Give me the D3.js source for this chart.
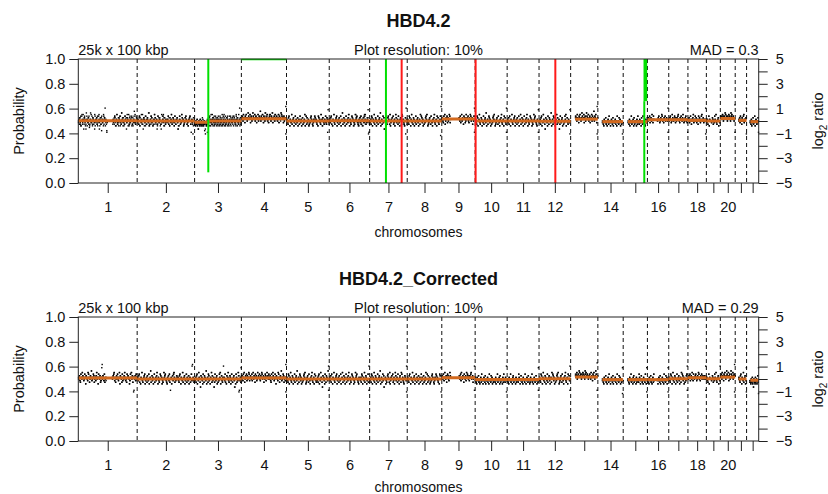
<!DOCTYPE html>
<html>
<head>
<meta charset="utf-8">
<script src="https://cdn.jsdelivr.net/npm/d3@7"></script>
<style>
  body { margin: 0; background: #fff; }
  text { font-family: "Liberation Sans", Arial, Helvetica, sans-serif; fill: #111; }
</style>
</head>
<body>
<svg id="chart" width="828" height="494"></svg>
<script>
"use strict";

//====================================
// data
var chromNames = d3.range(1, 23).map(String);
// hg19 autosome lengths, Mb
var chromLengths = [249.25, 243.20, 198.02, 191.15, 180.92, 171.12, 159.14, 146.36, 141.21, 135.53, 135.01,
    133.85, 115.17, 107.35, 102.53, 90.35, 81.20, 78.08, 59.13, 63.03, 48.13, 51.30];
var tickLabels = ["1", "2", "3", "4", "5", "6", "7", "8", "9", "10", "11", "12", "", "14", "", "16", "", "18", "", "20", "", ""];
var probTicks = [0, 0.2, 0.4, 0.6, 0.8, 1.0];
var ratioTicks = [-5, -4, -3, -2, -1, 0, 1, 2, 3, 4, 5];
var ratioLabels = [-5, -3, -1, 1, 3, 5];
var panelTitles = ["HBD4.2", "HBD4.2_Corrected"];
var leftNotes = ["25k x 100 kbp", "25k x 100 kbp"];
var midNotes = ["Plot resolution: 10%", "Plot resolution: 10%"];
var madNotes = ["MAD = 0.3", "MAD = 0.29"];

// bins, one char per bin: '.' = no data, 'm' = log2 0, one letter = 0.13 log2
// two interleaved sets of bins per panel
var binsTop = [
    "mnkolpjmqkmnhoplmkrnjmlopikmnqlmjonkmhpmlnokjmpqlnmkogmlnjpmoumnkfl............nlmkpojmnqlkmjonmplkrmnjolmkpnmhlonmqjklnmopmkjlnsmlkpnm",
    "lmnkopjmlqnmkhomnljpmkonmlrjmnkpolmjnmqkolmnhkpmlnojmkmlpnqjmolkn.mnlpkmjomnqlkmonjlpmkmnolhmjpnkmlqomnjklmopnmkljmnopmkfmnluomk",
    "kljmlknjlhmkljnklmjlokjlmkgleljkmnlkopmjnmlqkmnojlmpknmlojmnkmplnjmokmlnqjmpkolmnjkmlopnmkjlnmpo.mnlkmjpomnlkqmnjomlknumlkn",
    "onpmqonlpoqnmorpnoqlopmnrponqmoplnoqmpnosmpoqnlpomrnpoqmnlopqnmporlonpmqonpnmoqlpnomrqpnolpmonvo",
    "mnlkopmjnmlqkmnojlmpknmlojmnkmplnjmokmlnqjmpkolmnjkmlopnmkjlnmpomnlkmjpomnlkqmnjomlknmplkonfmln",
    "nmlopkmjnmqlkmnopjlmnkomlpjmnrkmolnjmpkmnloqmjnlkmpomnjlkmqnopmlkjnmolpkmnjmolpqnkmlmontmlk",
    "mlnkpojmnlqkmonjlmpkmnolrjmnkmploh.mnjlkmopnmkqjlnmompklnjmqolmnkpmljnomkqpmnlkjmoemnl",
    "nmlkpomjnqlmkonjmlpkmnoljmnkqmpolnjmkmlopnqmjklnomkpmljnmoqlkmnjpmolkmnpdmn",
    "nomlpnqkmonplomnqpln.................onmplnqmonkpnolmqnonpmlonqpmnoknmpun",
    "mnlkpojmnqlkmonjmlpkmnolrjmnkmpolnjmkmlopnqmjklnomkpmljnmoqlkmnjpmolkfm",
    "nmlokpmjnmqlkmnopjlmnkomlpjmnqkmolnjmpkmnloqmjnlkmpomnjlkmqnopmlkjnmtm",
    "mlnkopjmlqnmkhomnljpmkonmlrjmnkpolmjnmqkolmnhkpmlnojmkmlpnqjmolknmlem",
    "..........opnmqonlpoqnmorpnoqlopmnrponqmoplnoqmpnosmpoqnlvo",
    ".........lmkjnmlokljmnkplmjlnmkojlmlnkmjplmkolnjmklel",
    "..........lmknjmlpkmlnjokmlmjnkpmlknmljomkpllmkjnmlo",
    "nmonplnomqnlpn......mnopnlmonqpmnlonpmnonmfn",
    "nmopnlmqonmnpolnmonpqnmlonpnmoqnlmnopmnlu",
    "mnolmpnkmnoqlmnpmolnmkpnomlnpqmnolmnmen",
    "mlnkmpjnm..lmonkmlpnmqlkmnojmlm",
    "opnoqpmopnrqopnmpoqnpomrpqonpomnw",
    "........nmolpnmkonmpqlnmnoe",
    "........lmknjmlokmlpjmnlkmlom"
];
var binsTop2 = [
    "lmnokjmpnlqmkonjhmpnlokmjnrlmpkonmlqjnmokplmnhjomkpnlmqkonjlmg............kmnoplmjnqkmolnpjmkrnolmjkpnmolqnjmkoplnmjkomnplqkmon",
    "nlmkpjomnlkqmnojlpmknmolrjkmnplomjkmnqolmnkjpmolnmkhqmnplojmkn.lmnpkojmlnqkmonljpmknmolhjmnpkmlqomnjklompnkmljnmopkmnlkejmn",
    "lkjmklnjkhlmkjnlkmjlnkjlmkhlkjlfmnklopmjnlmqkmonjlmpknmlojnmkmplnjmokmlnqjmpklomnjkmlpnmkjlnmop.nmlkmjpnomlkqmnjoml",
    "npomqonlpnqomnrpnoqlpomnrponqmpolnoqmnposmpnoqnlpomrnopqmnlopqnmpnrlonpmqonpnmoqlpnorqpnolpmnoeo",
    "nmlkopmjnlmqkmnojlmpknmlojmnkpmlnjmokmlnqjmpkolmnjkmlopnmkjlnmpomnlkmjpomnlkqmnjomlknmplkontmk",
    "mnlopkmjnmqlkmnopjlmnkomlpjmnrkmolnjmpkmnloqmjnlkmpomnjlkmqnopmlkjnmolpkmnjmolpqnkmlmoefm",
    "lmnkpojmnlqkmonjlmpkmnolrjmnkmploh.mnjlkmopnmkqjlnmompklnjmqolmnkpmljnomkqpmnlkjmoumk",
    "mnlkpomjnqlmkonjmlpkmnoljmnkqmpolnjmkmlopnqmjklnomkpmljnmoqlkmnjpmolkmnpvm",
    "onmlpnqkmonplomnqpln.................nomplnqmonkpnolmqnonpmlonqpmnoknmpfn",
    "nmlkpojmnqlkmonjmlpkmnolrjmnkmpolnjmkmlopnqmjklnomkpmljnmoqlkmnjpmolkum",
    "mnlokpmjnmqlkmnopjlmnkomlpjmnqkmolnjmpkmnloqmjnlkmpomnjlkmqnopmlkjnmfm",
    "lmnkopjmlqnmkhomnljpmkonmlrjmnkpolmjnmqkolmnhkpmlnojmkmlpnqjmolknmltm",
    "..........pnomqonlpoqnmorpnoqlopmnrponqmoplnoqmpnosmpoqnleo",
    ".........mlkjnmlokljmnkplmjlnmkojlmlnkmjplmkolnjmklsl",
    "..........mlknjmlpkmlnjokmlmjnkpmlknmljomkpllmkjnmlf",
    "mnonplnomqnlpn......nmopnlmonqpmnlonpmnonmun",
    "mnopnlmqonmnpolnmonpqnmlonpnmoqnlmnopmnlf",
    "nmolmpnkmnoqlmnpmolnmkpnomlnpqmnolmnmun",
    "lmnkmpjnm..lmonkmlpnmqlkmnojmlf",
    "popnoqpmopnrqopnmpoqnpomrpqonpomnf",
    "........mnolpnmkonmpqlnmnou",
    "........mlknjmlokmlpjmnlkmlof"
];
var binsBottom = [
    "nmolkpnmqonlmpnjonmlqpnkmonrlmnpokmnloqmnjpnmoklnvmonlpkmn............mnopqlnkmonpmlnqjonmkplnmoqnlmkpnonmjlpnqmoknfnmolpn",
    "mnlopkmjnmqlkmnopjlmnkomlpjmnrkmolnjmpkmnloqmjnlkmpomnjlkmqnopmlkjnmolpk.mnjmolpqnkmlmonmnlkopmjnmlqkmnojlmpknmlojmnkmplumnlkf",
    "lmnkopjmlqnmkhomnljpmkonmlrjmnkpolmjnmqkolmnhkpmlnojmkmlpnqjmolkn.mnlpkmjomnqlkmonjlpmkmnolhmjpnkmlqoemlnkt",
    "nmolpnqkmonplomnqplnonmplnqmonkpnolmqnonpmlonqpmnoknmpolnqnompnmolkpnmqonlmpnjonmlqpnkmonrlmnpokmnlvn",
    "mnlkpojmnqlkmonjmlpkmnolrjmnkmpolnjmkmlopnqmjklnomkpmljnmoqlkmnjpmolkmlnkopjmlqnmkhomnljpmkonmlrfm",
    "nmlokpmjnmqlkmnopjlmnkomlpjmnqkmolnjmpkmnloqmjnlkmpomnjlkmqnopmlkjnmmlnkpojmnlqkmonjlmpkum",
    "mlnkpojmnlqkmonjlmpkmnolrjmnkmploh.mnjlkmopnmkqjlnmompklnjmqolmnkpmljnomkqpmnlkjmonmlem",
    "mnlkopmjnmlqkmnojlmpknmlojmnkmplnjmokmlnqjmpkolmnjkmlopnmkjlnmpomnlkmjpomtm",
    "onmpnlqnmoknpomlnqon.................nmoplqnmonkpnmolqnpomnlonpqmnokmnfn",
    "lmkjnmlokljmnkplmjlnmkojlmlnkmjplmkolnjmklmlknjmlpkmlnjokmlmjnkpmlknmel",
    "mlkjnmlpkmljnokmlmjnklmlkpnmjlomkljnmlkpmjlnmkolmjknlmpkljmnlkmoljmktl",
    "mnlkpomjnqlmkonjmlpkmnoljmnkqmpolnjmkmlopnqmjklnomkpmljnmoqlkmnjpmolfm",
    "..........pnoqmopnrqopnmpoqnpomrpqonpomnopnmqonlpoqnmorpnwo",
    ".........mlkjnmlokljmnkplmjlnmkojlmlnkmjplmkolnjmkldl",
    "..........lmkjnmlpkmljnokmlmjnklmlkpnmjlomkljnmlkpmjtl",
    "lmkjnmlokljmnkpl......mjlnmkojlmlnkmjplmkolnjmel",
    "mnlkpomjnqlmkonjmlpkmnoljmnkqmpolnjmkmlopum",
    "nmonplnomqnlpnmnopnlmonqpmnlonpmnonmnomfn",
    "mnlkmpjnm..lmonkmlpnmqlkmnojmlu",
    "onpmqonlpoqnmorpnoqlopmnrponqmopeo",
    "........mnlkopmjnmlqkmnojlt",
    "........lkjmlknjlhmkljnklmjlokd"
];
var binsBottom2 = [
    "mnolkpnmqonlmpnjonmlqpnkmonrlmnpokmnloqmnjpnmoklntmonlpkmnl............nmopqlnkmonpmlnqjonmkplnmoqnlmkpnonmjlpnqmoknenmolpnm",
    "nmlopkmjnmqlkmnopjlmnkomlpjmnrkmolnjmpkmnloqmjnlkmpomnjlkmqnopmlkjnmolpkfmnjmolpqnkmlmonmnlkopmjnmlqkmnojlmpknmlojmnkmplvmnlk",
    "mlnkopjmlqnmkhomnljpmkonmlrjmnkpolmjnmqkolmnhkpmlnojmkmlpnqjmolknumnlpkmjomnqlkmonjlpmkmnolhmjpnkmlqofmlnk",
    "omnlpnqkmonplomnqplnonmplnqmonkpnolmqnonpmlonqpmnoknmpolnqnompnmolkpnmqonlmpnjonmlqpnkmonrlmnpokmnlen",
    "nmlkpojmnqlkmonjmlpkmnolrjmnkmpolnjmkmlopnqmjklnomkpmljnmoqlkmnjpmolkmlnkopjmlqnmkhomnljpmkonmlrum",
    "mnlokpmjnmqlkmnopjlmnkomlpjmnqkmolnjmpkmnloqmjnlkmpomnjlkmqnopmlkjnmmlnkpojmnlqkmonjlmpkfm",
    "lmnkpojmnlqkmonjlmpkmnolrjmnkmploh.mnjlkmopnmkqjlnmompklnjmqolmnkpmljnomkqpmnlkjmonmlum",
    "nmlkopmjnmlqkmnojlmpknmlojmnkmplnjmokmlnqjmpkolmnjkmlopnmkjlnmpomnlkmjpomem",
    "nomplnqnmoknpomlnqon.................onmplqnmonkpnmolqnpomnlonpqmnokmnun",
    "mlkjnmlokljmnkplmjlnmkojlmlnkmjplmkolnjmklmlknjmlpkmlnjokmlmjnkpmlknmul",
    "lmkjnmlpkmljnokmlmjnklmlkpnmjlomkljnmlkpmjlnmkolmjknlmpkljmnlkmoljmkfl",
    "nmlkpomjnqlmkonjmlpkmnoljmnkqmpolnjmkmlopnqmjklnomkpmljnmoqlkmnjpmolum",
    "..........onpqmopnrqopnmpoqnpomrpqonpomnopnmqonlpoqnmorpnfo",
    ".........lmkjnmlokljmnkplmjlnmkojlmlnkmjplmkolnjmkltl",
    "..........mlkjnmlpkmljnokmlmjnklmlkpnmjlomkljnmlkpmjel",
    "mlkjnmlokljmnkpl......lmjlnmkojlmlnkmjplmkolnjmtl",
    "nmlkpomjnqlmkonjmlpkmnoljmnkqmpolnjmkmlopfm",
    "mnonplnomqnlpnmnopnlmonqpmnlonpmnonmnomun",
    "nmlkmpjnm..lmonkmlpnmqlkmnojmle",
    "nopmqonlpoqnmorpnoqlopmnrponqmopvo",
    "........nmlkopmjnmlqkmnojle",
    "........klkjmlknjlhmkljnklmjlokt"
];

// segments: [chromosome, start Mb, end Mb, log2 ratio]
var segmentsTop = [
    [1, 0, 249, 0.02], [2, 0, 243, 0.0], [3, 0, 58, -0.1], [3, 58, 198, 0.0], [4, 0, 191, 0.19],
    [5, 0, 181, 0.0], [6, 0, 171, 0.02], [7, 0, 69, 0.0], [7, 69, 159, 0.0], [8, 0, 146, 0.0],
    [9, 0, 141, 0.16], [10, 0, 135, 0.0], [11, 0, 135, 0.0], [12, 0, 134, -0.02], [13, 19, 115, 0.15],
    [14, 19, 107, -0.05], [15, 20, 102, -0.05], [16, 0, 90, 0.1], [17, 0, 81, 0.1], [18, 0, 78, 0.05],
    [19, 0, 59, 0.0], [20, 0, 63, 0.2], [21, 14, 48, 0.05], [22, 16, 51, -0.05]
];
var segmentsBottom = [
    [1, 0, 249, 0.08], [2, 0, 243, 0.0], [3, 0, 198, 0.0], [4, 0, 191, 0.08], [5, 0, 181, 0.0],
    [6, 0, 171, 0.0], [7, 0, 159, 0.0], [8, 0, 146, 0.0], [9, 0, 141, 0.1], [10, 0, 135, -0.05],
    [11, 0, 135, -0.05], [12, 0, 134, 0.02], [13, 19, 115, 0.16], [14, 19, 107, -0.05], [15, 20, 102, -0.05],
    [16, 0, 90, -0.05], [17, 0, 81, 0.02], [18, 0, 78, 0.1], [19, 0, 59, 0.02], [20, 0, 63, 0.15],
    [21, 14, 48, 0.0], [22, 16, 51, -0.1]
];

// calls: [chromosome, from Mb, to Mb, probability low, probability high, kind]
var callsTop = [
    [3, 58, 58, 0.086, 1.0, "gain"],
    [4, 0, 191.15, 1.0, 1.0, "gain"],
    [7, 69, 69, 0.0, 1.0, "gain"],
    [7, 135.5, 135.5, 0.0, 1.0, "loss"],
    [10, 2, 2, 0.0, 1.0, "loss"],
    [12, 69, 69, 0.0, 1.0, "loss"],
    [15, 89.3, 89.3, 0.0, 0.66, "gain"],
    [15, 86, 101.5, 0.66, 1.0, "gain"]
];
var callsBottom = [];

//====================================
var svg = d3.select("#chart");
var plotLeft = 78.3, plotRight = 758.7;
var callColor = {gain: "#00e000", loss: "#ff1a1a"};
var segColor = "#d2691e";
var binStep = 0.13;

var starts = d3.cumsum([0].concat(chromLengths.slice(0, -1)));
var total = d3.sum(chromLengths);
var x = d3.scaleLinear().domain([0, total]).range([plotLeft, plotRight]);
function gx(chr, mb){ return x(starts[chr - 1] + mb); }
var centers = chromLengths.map(function(l, i){ return starts[i] + l / 2; });
var bounds = starts.slice(1);

var panels = [
    {top: 59, bottom: 183, bins: [binsTop, binsTop2], segs: segmentsTop, calls: callsTop, idx: 0},
    {top: 317, bottom: 441, bins: [binsBottom, binsBottom2], segs: segmentsBottom, calls: callsBottom, idx: 1}
];

panels.forEach(function(p){
    var yP = d3.scaleLinear().domain([0, 1]).range([p.bottom, p.top]);
    var yR = d3.scaleLinear().domain([-5, 5]).range([p.bottom, p.top]);
    var g = svg.append("g");
    var mid = (plotLeft + plotRight) / 2;

    //titles
    g.append("text").attr("x", mid).attr("y", p.top - 32).attr("text-anchor", "middle")
        .style("font-size", "18px").style("font-weight", "bold").text(panelTitles[p.idx]);
    g.append("text").attr("x", plotLeft).attr("y", p.top - 4)
        .style("font-size", "14.5px").text(leftNotes[p.idx]);
    g.append("text").attr("x", mid).attr("y", p.top - 4).attr("text-anchor", "middle")
        .style("font-size", "14.5px").text(midNotes[p.idx]);
    g.append("text").attr("x", plotRight).attr("y", p.top - 4).attr("text-anchor", "end")
        .style("font-size", "14.5px").text(madNotes[p.idx]);

    //chromosome boundaries
    g.append("g").selectAll("line").data(bounds).join("line")
        .attr("x1", function(d){ return x(d); }).attr("x2", function(d){ return x(d); })
        .attr("y1", p.top).attr("y2", p.bottom)
        .attr("stroke", "#111").attr("stroke-width", 1).attr("stroke-dasharray", "4,3");

    //bins
    var pts = [];
    p.bins.forEach(function(set){
        set.forEach(function(s, ci){
            var n = s.length;
            for(var i = 0; i < n; ++i){
                if(s[i] === "."){ continue; }
                pts.push({pos: starts[ci] + (i + 0.5) / n * chromLengths[ci], v: (s.charCodeAt(i) - 109) * binStep});
            }
        });
    });
    g.append("g").selectAll("rect").data(pts).join("rect")
        .attr("x", function(d){ return x(d.pos) - 0.7; })
        .attr("y", function(d){ return yR(d.v) - 0.7; })
        .attr("width", 1.4).attr("height", 1.4).attr("fill", "#000");

    //segments
    g.append("g").selectAll("line").data(p.segs).join("line")
        .attr("x1", function(d){ return gx(d[0], d[1]); })
        .attr("x2", function(d){ return gx(d[0], d[2]); })
        .attr("y1", function(d){ return yR(d[3]); })
        .attr("y2", function(d){ return yR(d[3]); })
        .attr("stroke", segColor).attr("stroke-width", 3);

    //calls
    var cg = g.append("g");
    p.calls.forEach(function(c){
        var x0 = gx(c[0], c[1]), x1 = gx(c[0], c[2]);
        if(c[3] === c[4]){
            cg.append("line").attr("x1", x0).attr("x2", x1).attr("y1", yP(c[3]) + 0.5).attr("y2", yP(c[3]) + 0.5)
                .attr("stroke", callColor[c[5]]).attr("stroke-width", 1.5);
        } else if(x1 - x0 < 1){
            cg.append("line").attr("x1", x0).attr("x2", x0).attr("y1", yP(c[3])).attr("y2", yP(c[4]))
                .attr("stroke", callColor[c[5]]).attr("stroke-width", 2);
        } else {
            cg.append("rect").attr("x", x0).attr("width", x1 - x0)
                .attr("y", yP(c[4])).attr("height", yP(c[3]) - yP(c[4]))
                .attr("fill", callColor[c[5]]);
        }
    });

    //box
    g.append("rect").attr("x", plotLeft).attr("y", p.top)
        .attr("width", plotRight - plotLeft).attr("height", p.bottom - p.top)
        .attr("fill", "none").attr("stroke", "#222").attr("stroke-width", 1);

    //axes
    var ax = g.append("g").attr("transform", "translate(" + plotLeft + ",0)")
        .call(d3.axisLeft(yP).tickValues(probTicks).tickFormat(d3.format(".1f")).tickSize(9).tickPadding(4));
    var bx = g.append("g").attr("transform", "translate(0," + p.bottom + ")")
        .call(d3.axisBottom(x).tickValues(centers).tickFormat(function(d, i){ return tickLabels[i]; }).tickSize(10).tickPadding(9));
    var rx = g.append("g").attr("transform", "translate(" + plotRight + ",0)")
        .call(d3.axisRight(yR).tickValues(ratioTicks)
            .tickFormat(function(d){ return ratioLabels.indexOf(d) >= 0 ? d3.format("d")(d) : ""; })
            .tickSize(9).tickPadding(8));
    [ax, bx, rx].forEach(function(a){
        a.select(".domain").remove();
        a.selectAll("line").attr("stroke", "#222");
        a.selectAll("text").style("font-size", "14.5px").attr("fill", "#111");
    });

    //axis titles
    g.append("text").attr("x", mid).attr("y", Math.min(p.bottom + 54, 492)).attr("text-anchor", "middle")
        .style("font-size", "14px").text("chromosomes");
    g.append("text").attr("transform", "translate(24," + ((p.top + p.bottom) / 2) + ") rotate(-90)")
        .attr("text-anchor", "middle").style("font-size", "14.5px").text("Probability");
    var lr = g.append("text").attr("transform", "translate(823," + ((p.top + p.bottom) / 2) + ") rotate(-90)")
        .attr("text-anchor", "middle").style("font-size", "14.5px");
    lr.append("tspan").text("log");
    lr.append("tspan").attr("dy", 4).style("font-size", "10px").text("2");
    lr.append("tspan").attr("dy", -4).text(" ratio");
});
</script>
</body>
</html>
